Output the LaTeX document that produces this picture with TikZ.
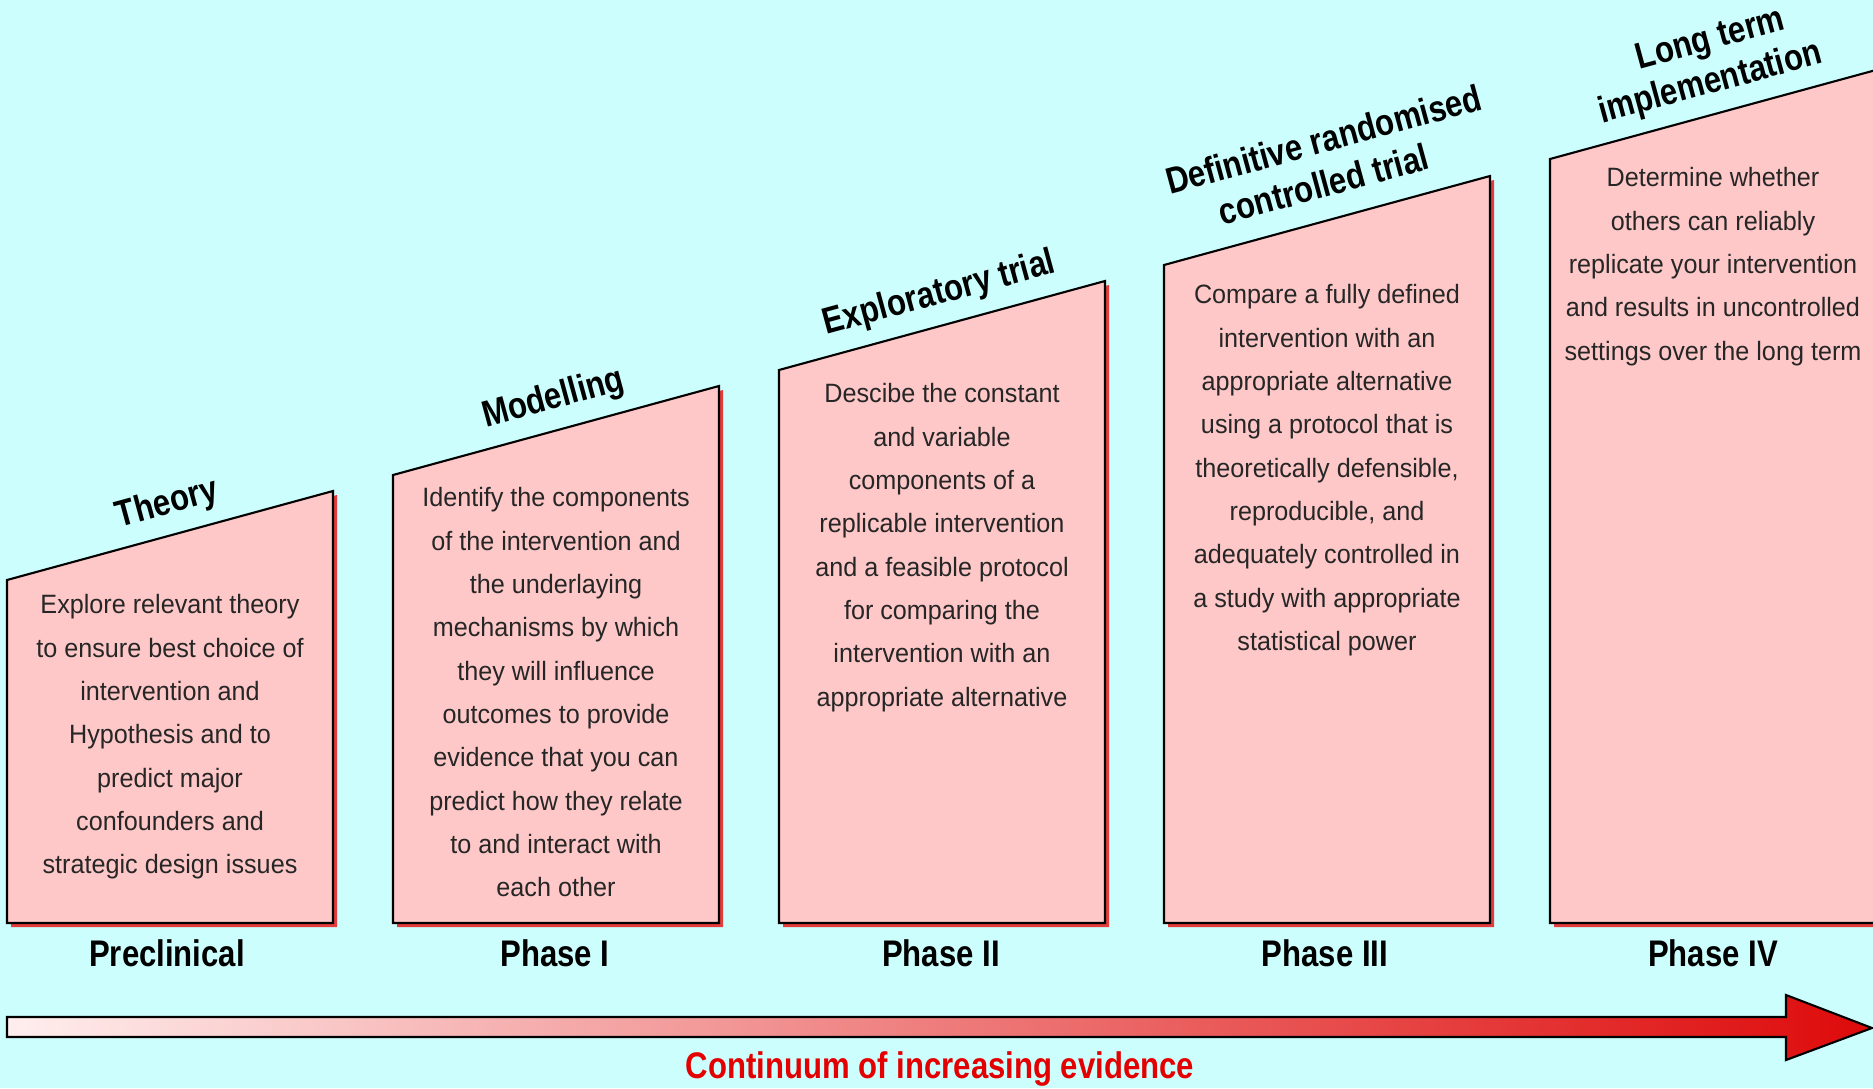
\documentclass[tikz,border=0pt]{standalone}
\usepackage{fontspec}
\setmainfont{Liberation Sans}
\newfontfamily\bodyfont{Liberation Sans}[FakeStretch=0.95]
\newfontfamily\headfont{Liberation Sans}[FakeStretch=0.84]
\definecolor{bgcol}{RGB}{204,254,254}
\definecolor{boxfill}{RGB}{255,200,200}
\definecolor{shadowred}{RGB}{228,60,60}
\definecolor{arrowlight}{RGB}{255,238,238}
\definecolor{arrowred}{RGB}{222,10,10}
\definecolor{evidred}{RGB}{228,0,0}
\newcommand{\fl}{\rule{0pt}{1em}}
\tikzset{
  stagebox/.style={draw=black, line width=0.6pt, fill=boxfill, line join=miter},
  stageshadow/.style={fill=shadowred, draw=none},
  bodytext/.style={align=center, inner sep=0pt, anchor=north,
    font=\bodyfont\fontsize{7.54}{12.32}\selectfont, text=black!85},
  titletext/.style={inner sep=0pt, anchor=base, rotate=15.27,
    font=\headfont\bfseries\fontsize{10.53}{12.8}\selectfont},
  phasetext/.style={inner sep=0pt, anchor=base,
    font=\headfont\bfseries\fontsize{10.53}{12.8}\selectfont},
}
\begin{document}
\begin{tikzpicture}[x=0.01cm,y=-0.01cm]
\useasboundingbox (0,0) rectangle (1873,1088);
\fill[bgcol] (0,0) rectangle (1873,1088);

% shadows
\foreach \L/\T in {7/580, 393/475, 779/370, 1164/265, 1550/159}{
  \fill[stageshadow] (\L+4,927) -- (\L+4,\T+4) -- (\L+330,\T-85) -- (\L+330,927) -- cycle;
}
% boxes
\draw[stagebox] (7,923) coordinate (b1bl) -- (7,580) coordinate (b1tl) -- (333,491) coordinate (b1tr) -- (333,923) coordinate (b1br) -- cycle;
\draw[stagebox] (393,923) coordinate (b2bl) -- (393,475) coordinate (b2tl) -- (719,386) coordinate (b2tr) -- (719,923) coordinate (b2br) -- cycle;
\draw[stagebox] (779,923) coordinate (b3bl) -- (779,370) coordinate (b3tl) -- (1105,281) coordinate (b3tr) -- (1105,923) coordinate (b3br) -- cycle;
\draw[stagebox] (1164,923) coordinate (b4bl) -- (1164,265) coordinate (b4tl) -- (1490,176) coordinate (b4tr) -- (1490,923) coordinate (b4br) -- cycle;
\draw[stagebox] (1550,923) coordinate (b5bl) -- (1550,159) coordinate (b5tl) -- (1876,70) coordinate (b5tr) -- (1876,923) coordinate (b5br) -- cycle;

% titles
\node[titletext] (t1) at (170,513.5) {Theory};
\node[titletext] (t2) at (556,408.5) {Modelling};
\node[titletext] (t3) at (942,303.5) {Exploratory trial};
\node[titletext] (t4a) at (1327,152) {Definitive randomised};
\node[titletext] (t4b) at (1327,197) {controlled trial};
\node[titletext] (t5a) at (1713,49) {Long term};
\node[titletext] (t5b) at (1713,93) {implementation};

% body texts
\node[bodytext] (x1) at (170,613-26.5) {\fl Explore relevant theory\\to ensure best choice of\\intervention and\\Hypothesis and to\\predict major\\confounders and\\strategic design issues};
\node[bodytext] (x2) at (556,506-26.5) {\fl Identify the components\\of the intervention and\\the underlaying\\mechanisms by which\\they will influence\\outcomes to provide\\evidence that you can\\predict how they relate\\to and interact with\\each other};
\node[bodytext] (x3) at (942,402-26.5) {\fl Descibe the constant\\and variable\\components of a\\replicable intervention\\and a feasible protocol\\for comparing the\\intervention with an\\appropriate alternative};
\node[bodytext] (x4) at (1327,303-26.5) {\fl Compare a fully defined\\intervention with an\\appropriate alternative\\using a protocol that is\\theoretically defensible,\\reproducible, and\\adequately controlled in\\a study with appropriate\\statistical power};
\node[bodytext] (x5) at (1713,186-26.5) {\fl Determine whether\\others can reliably\\replicate your intervention\\and results in uncontrolled\\settings over the long term};

% phase labels
\node[phasetext] (p0) at (167,966) {Preclinical};
\node[phasetext] (p1) at (555,966) {Phase I};
\node[phasetext] (p2) at (941,966) {Phase II};
\node[phasetext] (p3) at (1325,966) {Phase III};
\node[phasetext] (p4) at (1713,966) {Phase IV};

% evidence arrow
\draw[line width=0.6pt, left color=arrowlight, right color=arrowred, line join=miter]
  (7,1017) coordinate (astart) -- (1786,1017) -- (1786,995) -- (1872,1028) coordinate (atip) -- (1786,1060) -- (1786,1037) -- (7,1037) -- cycle;
\node[phasetext, text=evidred] (ev) at (940,1078) {Continuum of increasing evidence};
\end{tikzpicture}
\end{document}
